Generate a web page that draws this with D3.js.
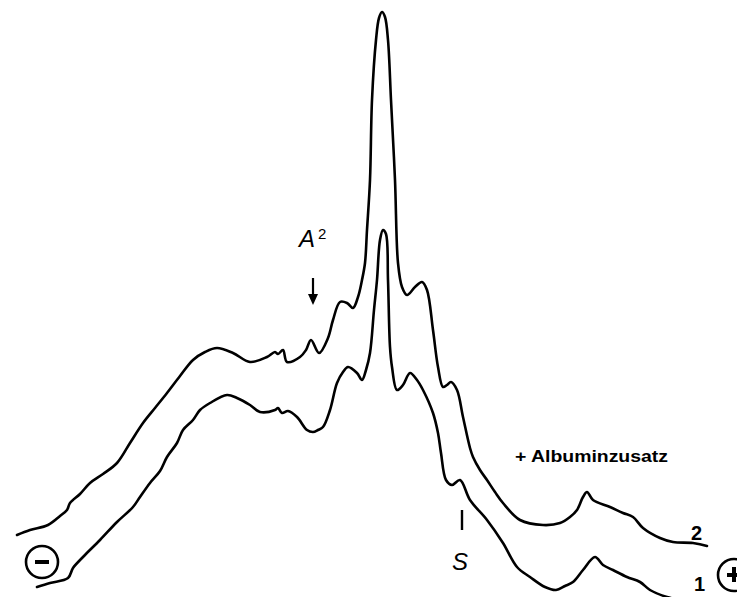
<!DOCTYPE html>
<html>
<head>
<meta charset="utf-8">
<script src="https://cdn.jsdelivr.net/npm/d3@7"></script>
<style>
  html, body { margin: 0; padding: 0; background: #fff; }
  svg { display: block; }
</style>
</head>
<body>
<svg id="chart" width="737" height="597"></svg>
<script>
// Trace 2 (+ Albuminzusatz): migration position and optical density
const position2 = [17, 30, 48, 60, 67, 70, 80, 90, 103, 117, 130, 143, 155, 167, 180, 193, 205, 217, 233, 250, 267, 275, 278, 283, 287, 300, 306, 311, 319, 328, 333, 340, 347, 353, 358, 362, 365, 367, 370, 372, 376, 379, 382, 385, 388, 391, 395, 398, 402, 407, 415, 422, 427, 433, 438, 443, 447, 451, 457, 463, 470, 473, 480, 487, 495, 503, 520, 543, 560, 570, 577, 583, 587, 593, 610, 623, 633, 643, 660, 673, 693, 707];
const density2  = [65, 70, 75, 84, 90, 97, 106, 117, 126, 137, 157, 177, 192, 207, 224, 240, 248, 252, 247, 238, 243, 248, 246, 250, 238, 243, 250, 260, 247, 262, 280, 298, 297, 292, 303, 320, 337, 370, 420, 500, 560, 582, 588, 583, 560, 500, 420, 337, 313, 305, 313, 318, 310, 270, 233, 213, 215, 218, 210, 183, 152, 143, 130, 120, 108, 97, 80, 75, 77, 83, 90, 103, 108, 100, 93, 87, 83, 72, 62, 58, 57, 54];

// Trace 1 (serum): migration position and optical density
const position1 = [37, 50, 68, 73, 83, 100, 117, 133, 140, 150, 160, 167, 177, 183, 193, 200, 210, 227, 237, 250, 260, 275, 278, 282, 288, 297, 307, 313, 318, 323, 330, 337, 343, 348, 357, 362, 366, 370, 374, 377, 380, 383, 386, 388, 390, 392, 397, 403, 410, 417, 423, 433, 438, 441, 446, 452, 460, 470, 487, 503, 517, 530, 545, 556, 565, 573, 583, 595, 603, 613, 627, 640, 650, 667, 685];
const density1  = [13, 17, 22, 32, 43, 60, 78, 93, 103, 117, 129, 143, 157, 170, 180, 190, 197, 205, 202, 195, 188, 190, 192, 187, 189, 183, 170, 168, 170, 173, 190, 217, 228, 233, 227, 220, 230, 247, 290, 320, 360, 370, 366, 320, 253, 233, 210, 215, 227, 220, 210, 187, 167, 147, 120, 115, 120, 100, 80, 57, 33, 23, 13, 10, 14, 18, 30, 43, 35, 30, 23, 18, 10, 3, -1];

const traceLabels = ["1", "2"];
const annotation = "+ Albuminzusatz";

const width = 737, height = 597;
const svg = d3.select("#chart");
svg.append("rect").attr("width", width).attr("height", height).attr("fill", "#fff");

const x = d3.scaleLinear().domain([0, 737]).range([0, 737]);
const y = d3.scaleLinear().domain([0, 600]).range([600, 0]);

const line = d3.line()
  .x(d => x(d[0]))
  .y(d => y(d[1]))
  .curve(d3.curveCatmullRom.alpha(0.5));

const trace2 = position2.map((p, i) => [p, density2[i]]);
const trace1 = position1.map((p, i) => [p, density1[i]]);

[trace2, trace1].forEach(t => {
  svg.append("path")
    .datum(t)
    .attr("d", line)
    .attr("fill", "none")
    .attr("stroke", "#000")
    .attr("stroke-width", 2.6)
    .attr("stroke-linejoin", "round")
    .attr("stroke-linecap", "round");
});

const font = "'Liberation Sans', Arial, sans-serif";

// A² label with arrow
svg.append("text").attr("x", 299).attr("y", 247)
  .attr("font-family", font).attr("font-style", "italic")
  .attr("font-size", 24).text("A");
svg.append("text").attr("x", 318).attr("y", 239)
  .attr("font-family", font).attr("font-size", 15).text("2");
svg.append("line").attr("x1", 313).attr("x2", 313).attr("y1", 278).attr("y2", 297)
  .attr("stroke", "#000").attr("stroke-width", 2.2);
svg.append("path").attr("d", "M308,294 L318,294 L313,305 Z").attr("fill", "#000");

// S marker
svg.append("line").attr("x1", 462).attr("x2", 462).attr("y1", 510).attr("y2", 530)
  .attr("stroke", "#000").attr("stroke-width", 2.4);
svg.append("text").attr("x", 452).attr("y", 570)
  .attr("font-family", font).attr("font-style", "italic")
  .attr("font-size", 24).text("S");

// Annotation
svg.append("text").attr("x", 515).attr("y", 462)
  .attr("font-family", font).attr("font-weight", "bold")
  .attr("font-size", 16)
  .attr("textLength", 153).attr("lengthAdjust", "spacingAndGlyphs")
  .text(annotation);

// Trace labels
svg.append("text").attr("x", 691).attr("y", 540)
  .attr("font-family", font).attr("font-weight", "bold")
  .attr("font-size", 20).text(traceLabels[1]);
svg.append("text").attr("x", 694).attr("y", 591)
  .attr("font-family", font).attr("font-weight", "bold")
  .attr("font-size", 20).text(traceLabels[0]);

// Electrode symbols
svg.append("circle").attr("cx", 42).attr("cy", 562).attr("r", 16)
  .attr("fill", "none").attr("stroke", "#000").attr("stroke-width", 2.6);
svg.append("rect").attr("x", 35).attr("y", 560).attr("width", 14).attr("height", 4).attr("fill", "#000");

svg.append("circle").attr("cx", 734).attr("cy", 575).attr("r", 16)
  .attr("fill", "none").attr("stroke", "#000").attr("stroke-width", 2.6);
svg.append("rect").attr("x", 727).attr("y", 573).attr("width", 14).attr("height", 4).attr("fill", "#000");
svg.append("rect").attr("x", 732).attr("y", 567).attr("width", 4).attr("height", 15).attr("fill", "#000");
</script>
</body>
</html>
